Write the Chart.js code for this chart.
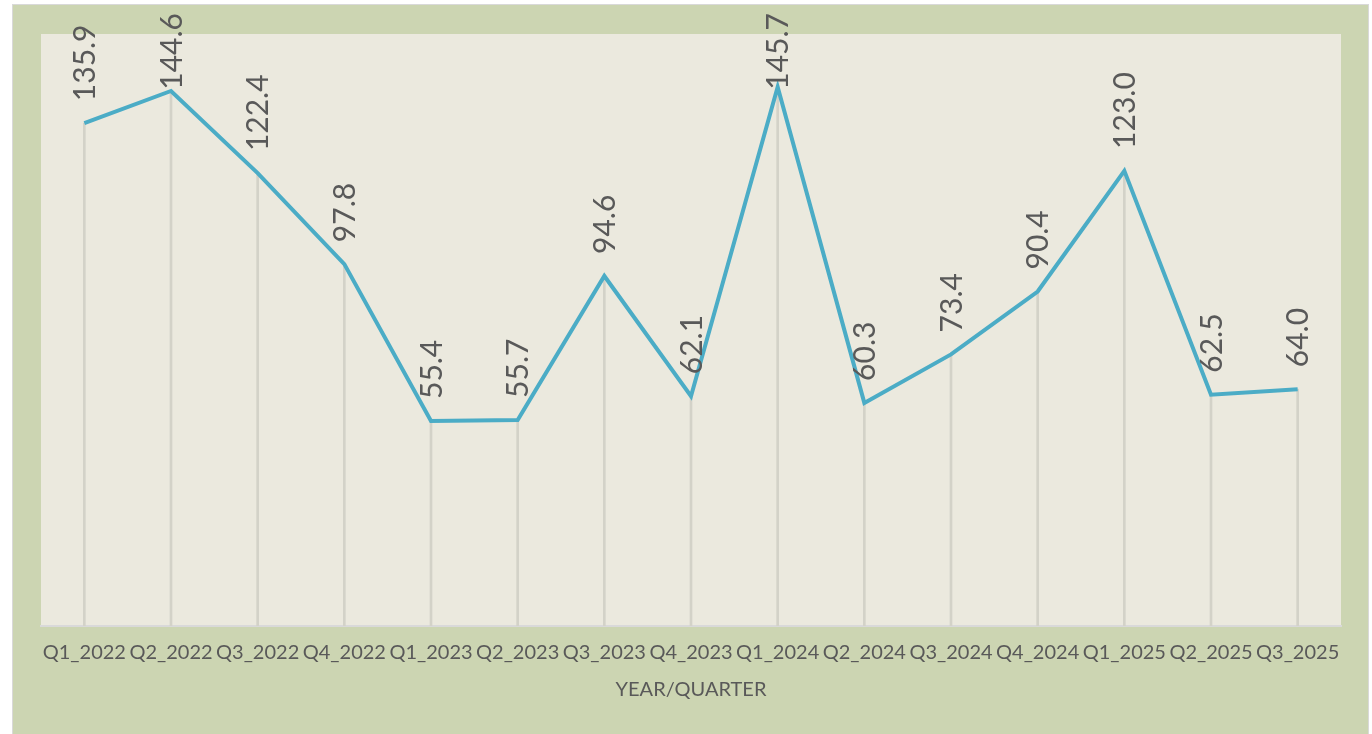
<!DOCTYPE html>
<html>
<head>
<meta charset="utf-8">
<script src="https://cdn.jsdelivr.net/npm/chart.js@4.4.1/dist/chart.umd.min.js"></script>
<style>
  html, body { margin: 0; padding: 0; background: #ffffff; }
  #marco {
    position: absolute; left: 12px; top: 4px;
    width: 1355px; height: 740px;
    border: 1px solid #d9d9d9;
    background: #ccd5b2;
  }
  #grafico { display: block; }
</style>
</head>
<body>
<div id="marco"><canvas id="grafico" width="1355" height="729"></canvas></div>
<script>
const trimestres = ["Q1_2022", "Q2_2022", "Q3_2022", "Q4_2022", "Q1_2023", "Q2_2023", "Q3_2023", "Q4_2023",
  "Q1_2024", "Q2_2024", "Q3_2024", "Q4_2024", "Q1_2025", "Q2_2025", "Q3_2025"];
const valores = [135.9, 144.6, 122.4, 97.8, 55.4, 55.7, 94.6, 62.1, 145.7, 60.3, 73.4, 90.4, 123.0, 62.5, 64.0];
const tituloEjeX = "YEAR/QUARTER";

const fuente = "'Lato', 'Liberation Sans', sans-serif";
const grisTexto = "#595959";

// fondo del area de trazado
const fondoArea = {
  id: "fondoArea",
  beforeDraw(chart) {
    const { ctx, chartArea } = chart;
    ctx.save();
    ctx.fillStyle = "#ebe9de";
    ctx.fillRect(chartArea.left, chartArea.top, chartArea.right - chartArea.left, chartArea.bottom - chartArea.top);
    ctx.restore();
  }
};

// etiquetas de datos giradas encima de cada punto
const etiquetas = {
  id: "etiquetas",
  afterDatasetsDraw(chart) {
    const { ctx } = chart;
    const meta = chart.getDatasetMeta(1);
    ctx.save();
    ctx.font = "30px " + fuente;
    ctx.fillStyle = grisTexto;
    ctx.textAlign = "left";
    ctx.textBaseline = "middle";
    meta.data.forEach((punto, i) => {
      const texto = valores[i].toFixed(1);
      const ancho = ctx.measureText(texto).width;
      let inicio = punto.y - 22;
      if (inicio - ancho < 8) inicio = 8 + ancho;
      ctx.save();
      ctx.translate(punto.x + 1, inicio);
      ctx.rotate(-Math.PI / 2);
      ctx.fillText(texto, 0, 0);
      ctx.restore();
    });
    ctx.restore();
  }
};

new Chart(document.getElementById("grafico"), {
  data: {
    labels: trimestres,
    datasets: [
      {
        type: "bar",
        data: valores,
        backgroundColor: "#d3d2c8",
        barThickness: 2,
        order: 2
      },
      {
        type: "line",
        data: valores,
        borderColor: "#4bacc6",
        borderWidth: 4,
        pointRadius: 0,
        tension: 0,
        fill: false,
        order: 1
      }
    ]
  },
  options: {
    responsive: false,
    animation: false,
    layout: { padding: { left: 28, right: 27, top: 29, bottom: 34 } },
    plugins: {
      legend: { display: false },
      tooltip: { enabled: false }
    },
    scales: {
      x: {
        offset: true,
        grid: { display: false, drawTicks: false },
        border: { display: true, color: "#d9d9d9", width: 2 },
        ticks: {
          color: grisTexto,
          font: { family: fuente, size: 20 },
          padding: 15,
          maxRotation: 0,
          autoSkip: false
        },
        title: {
          display: true,
          text: tituloEjeX,
          color: grisTexto,
          font: { family: fuente, size: 20, lineHeight: 1 },
          padding: { top: 0, bottom: 0 }
        }
      },
      y: {
        display: false,
        min: 0,
        max: 160
      }
    }
  },
  plugins: [fondoArea, etiquetas]
});
</script>
</body>
</html>
